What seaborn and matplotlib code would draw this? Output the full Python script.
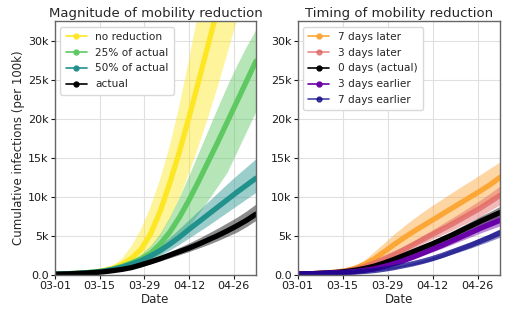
import numpy as np
import pandas as pd
import matplotlib
matplotlib.use("Agg")
import matplotlib.pyplot as plt
import matplotlib.dates as mdates
from matplotlib.lines import Line2D
import seaborn as sns

# Sample dates: every 3 days from 03-01 to 05-03
dates = pd.date_range("2020-03-01", "2020-05-03", freq="3D")

# ---- Magnitude of mobility reduction (cumulative infections, thousands per 100k)
no_red_mid = [0.12, 0.15, 0.2, 0.27, 0.37, 0.55, 0.85, 1.35, 2.15, 3.3, 5.3, 8.2,
              11.8, 15.8, 20.2, 24.8, 29.5, 34.2, 38.9, 43.6, 48.3, 53.0]
no_red_hi = [0.12, 0.15, 0.2, 0.27, 0.38, 0.62, 1.1, 2.1, 3.7, 5.9, 8.8, 12.3,
             16.6, 21.7, 27.6, 33.8, 40.0, 46.0, 52.0, 58.0, 64.0, 70.0]
no_red_lo = [0.12, 0.15, 0.2, 0.27, 0.36, 0.5, 0.7, 1.0, 1.5, 2.3, 3.4, 5.0,
             7.1, 9.8, 13.0, 16.5, 20.2, 24.1, 28.3, 32.6, 37.0, 41.4]

q25_mid = [0.12, 0.15, 0.2, 0.27, 0.36, 0.5, 0.75, 1.1, 1.55, 2.05, 2.8, 4.0,
           5.5, 7.4, 9.6, 12.0, 14.5, 17.0, 19.6, 22.2, 24.8, 27.4]
q25_hi = [0.12, 0.15, 0.2, 0.27, 0.37, 0.55, 0.85, 1.35, 1.95, 2.7, 3.8, 5.4,
          7.5, 10.0, 12.8, 15.7, 18.6, 21.5, 24.3, 26.9, 29.3, 31.5]
q25_lo = [0.12, 0.15, 0.2, 0.27, 0.35, 0.45, 0.65, 0.9, 1.15, 1.5, 2.0, 2.75,
          3.7, 4.9, 6.3, 7.9, 9.6, 11.4, 13.2, 15.8, 18.4, 21.0]

q50_mid = [0.12, 0.15, 0.2, 0.27, 0.35, 0.48, 0.7, 1.0, 1.4, 1.85, 2.45, 3.15,
           3.95, 4.85, 5.85, 6.8, 7.75, 8.7, 9.65, 10.6, 11.5, 12.4]
q50_hi = [0.12, 0.15, 0.2, 0.27, 0.36, 0.52, 0.78, 1.1, 1.6, 2.2, 2.95, 3.85,
          4.85, 5.95, 7.1, 8.25, 9.4, 10.55, 11.7, 12.8, 13.85, 14.9]
q50_lo = [0.12, 0.15, 0.2, 0.27, 0.34, 0.44, 0.62, 0.9, 1.2, 1.55, 2.0, 2.55,
          3.2, 3.95, 4.75, 5.55, 6.35, 7.2, 8.05, 8.9, 9.75, 10.6]

act_mid = [0.1, 0.13, 0.17, 0.23, 0.3, 0.4, 0.55, 0.72, 0.95, 1.3, 1.68, 2.1,
           2.55, 3.0, 3.45, 3.95, 4.5, 5.05, 5.65, 6.3, 7.0, 7.8]
act_hi = [0.1, 0.13, 0.17, 0.23, 0.31, 0.43, 0.6, 0.8, 1.1, 1.5, 1.95, 2.45,
          3.0, 3.55, 4.1, 4.7, 5.35, 6.0, 6.7, 7.4, 8.2, 9.1]
act_lo = [0.1, 0.13, 0.17, 0.23, 0.29, 0.37, 0.5, 0.65, 0.85, 1.15, 1.45, 1.8,
          2.2, 2.6, 3.0, 3.45, 3.9, 4.4, 4.95, 5.5, 6.2, 7.0]

# ---- Timing of mobility reduction
late7_mid = [0.12, 0.15, 0.2, 0.27, 0.37, 0.55, 0.88, 1.4, 2.1, 3.0, 3.9, 4.75,
             5.55, 6.3, 7.05, 7.8, 8.55, 9.3, 10.05, 10.8, 11.6, 12.5]
late7_hi = [0.12, 0.15, 0.2, 0.27, 0.38, 0.62, 1.15, 2.0, 3.05, 4.15, 5.25, 6.25,
            7.2, 8.1, 8.95, 9.75, 10.55, 11.35, 12.1, 12.9, 13.7, 14.5]
late7_lo = [0.12, 0.15, 0.2, 0.27, 0.35, 0.5, 0.72, 1.05, 1.45, 1.95, 2.55, 3.15,
            3.85, 4.55, 5.25, 5.95, 6.65, 7.35, 8.05, 8.75, 9.5, 10.3]

late3_mid = [0.12, 0.15, 0.2, 0.27, 0.35, 0.5, 0.75, 1.1, 1.55, 2.1, 2.65, 3.25,
             3.9, 4.55, 5.2, 5.85, 6.5, 7.2, 7.9, 8.6, 9.4, 10.2]
late3_hi = [0.12, 0.15, 0.2, 0.27, 0.36, 0.55, 0.85, 1.25, 1.75, 2.35, 3.0, 3.65,
            4.35, 5.1, 5.8, 6.55, 7.3, 8.05, 8.85, 9.65, 10.5, 11.4]
late3_lo = [0.12, 0.15, 0.2, 0.27, 0.34, 0.45, 0.65, 0.95, 1.35, 1.85, 2.3, 2.85,
            3.4, 4.0, 4.6, 5.15, 5.7, 6.35, 6.95, 7.55, 8.3, 9.0]

zero_mid = [0.12, 0.15, 0.19, 0.25, 0.33, 0.45, 0.62, 0.85, 1.15, 1.55, 2.0, 2.5,
            3.0, 3.5, 4.0, 4.55, 5.1, 5.7, 6.3, 6.9, 7.45, 8.0]
zero_hi = [0.12, 0.15, 0.19, 0.25, 0.34, 0.48, 0.68, 0.93, 1.27, 1.7, 2.2, 2.75,
           3.3, 3.85, 4.4, 5.0, 5.6, 6.25, 6.9, 7.55, 8.15, 8.8]
zero_lo = [0.12, 0.15, 0.19, 0.25, 0.32, 0.42, 0.57, 0.77, 1.04, 1.4, 1.8, 2.25,
           2.7, 3.15, 3.6, 4.1, 4.6, 5.15, 5.7, 6.25, 6.75, 7.25]

early3_mid = [0.12, 0.15, 0.19, 0.24, 0.3, 0.35, 0.45, 0.6, 0.8, 1.1, 1.45, 1.85,
              2.3, 2.8, 3.3, 3.8, 4.35, 4.9, 5.45, 6.0, 6.5, 7.0]
early3_hi = [0.12, 0.15, 0.19, 0.24, 0.31, 0.38, 0.5, 0.66, 0.88, 1.21, 1.6, 2.04,
             2.53, 3.08, 3.63, 4.18, 4.79, 5.39, 6.0, 6.6, 7.15, 7.7]
early3_lo = [0.12, 0.15, 0.19, 0.24, 0.29, 0.32, 0.41, 0.54, 0.72, 0.99, 1.3, 1.67,
             2.07, 2.52, 2.97, 3.42, 3.92, 4.41, 4.9, 5.4, 5.85, 6.3]

early7_mid = [0.12, 0.15, 0.18, 0.22, 0.26, 0.3, 0.38, 0.47, 0.58, 0.75, 0.95, 1.2,
              1.45, 1.75, 2.1, 2.5, 2.95, 3.4, 3.85, 4.35, 4.85, 5.4]
early7_hi = [0.12, 0.15, 0.18, 0.22, 0.27, 0.32, 0.41, 0.52, 0.64, 0.83, 1.05, 1.32,
             1.6, 1.93, 2.31, 2.75, 3.25, 3.74, 4.24, 4.79, 5.34, 5.94]
early7_lo = [0.12, 0.15, 0.18, 0.22, 0.25, 0.28, 0.34, 0.42, 0.52, 0.68, 0.86, 1.08,
             1.31, 1.58, 1.89, 2.25, 2.66, 3.06, 3.47, 3.92, 4.37, 4.86]

magnitude = [
    ("no reduction", "#fde725", 1.0, no_red_mid, no_red_lo, no_red_hi),
    ("25% of actual", "#5ec962", 1.0, q25_mid, q25_lo, q25_hi),
    ("50% of actual", "#21918c", 1.0, q50_mid, q50_lo, q50_hi),
    ("actual", "#000000", 1.0, act_mid, act_lo, act_hi),
]
timing = [
    ("7 days later", "#fca636", 1.0, late7_mid, late7_lo, late7_hi),
    ("3 days later", "#e16462", 0.75, late3_mid, late3_lo, late3_hi),
    ("0 days (actual)", "#000000", 1.0, zero_mid, zero_lo, zero_hi),
    ("3 days earlier", "#6a00a8", 1.0, early3_mid, early3_lo, early3_hi),
    ("7 days earlier", "#0d0887", 0.75, early7_mid, early7_lo, early7_hi),
]

sns.set_style("whitegrid", {
    "axes.edgecolor": "0.4",
    "grid.color": "0.88",
    "xtick.bottom": True,
    "ytick.left": True,
})
plt.rcParams["font.family"] = ["DejaVu Sans"]

fig = plt.figure(figsize=(5.22, 3.21), dpi=100)
ax1 = fig.add_axes([0.1054, 0.1433, 0.385, 0.7903])
ax2 = fig.add_axes([0.5703, 0.1433, 0.3876, 0.7903])

yticks = [0, 5000, 10000, 15000, 20000, 25000, 30000]
ylabels = ["0.0", "5k", "10k", "15k", "20k", "25k", "30k"]
xticks = pd.to_datetime(["2020-03-01", "2020-03-15", "2020-03-29",
                         "2020-04-12", "2020-04-26"])


def draw_panel(ax, groups, title):
    handles = []
    for label, color, alpha, mid, lo, hi in groups:
        mid = np.asarray(mid) * 1000
        lo = np.asarray(lo) * 1000
        hi = np.asarray(hi) * 1000
        ax.fill_between(dates, lo, hi, color=color, alpha=0.45, lw=0)
        df = pd.DataFrame({"date": dates, "value": mid})
        sns.lineplot(data=df, x="date", y="value", ax=ax, color=color,
                     lw=3.8, alpha=alpha)
        handles.append(Line2D([], [], color=color, alpha=alpha, lw=1.2,
                              marker="o", markersize=3.5, label=label))
    ax.set_xlim(dates[0], dates[-1])
    ax.set_ylim(0, 32500)
    ax.set_yticks(yticks)
    ax.set_yticklabels(ylabels)
    ax.set_xticks(xticks)
    ax.xaxis.set_major_formatter(mdates.DateFormatter("%m-%d"))
    ax.tick_params(labelsize=8, length=3, width=0.8, pad=1.5, colors="0.1")
    ax.grid(True, lw=0.8)
    for s in ax.spines.values():
        s.set_linewidth(1.0)
    ax.set_xlabel("Date", fontsize=8.5, labelpad=1)
    ax.set_title(title, fontsize=9.5, pad=3)
    ax.legend(handles=handles, loc="upper left", fontsize=7.6,
              handlelength=2.0, handletextpad=0.8, labelspacing=0.55,
              borderpad=0.5, frameon=True, framealpha=1, edgecolor="0.85")


draw_panel(ax1, magnitude, "Magnitude of mobility reduction")
draw_panel(ax2, timing, "Timing of mobility reduction")
ax1.set_ylabel("Cumulative infections (per 100k)", fontsize=8.5, labelpad=2)
ax2.set_ylabel("")

fig.savefig("out.png", dpi=100)
